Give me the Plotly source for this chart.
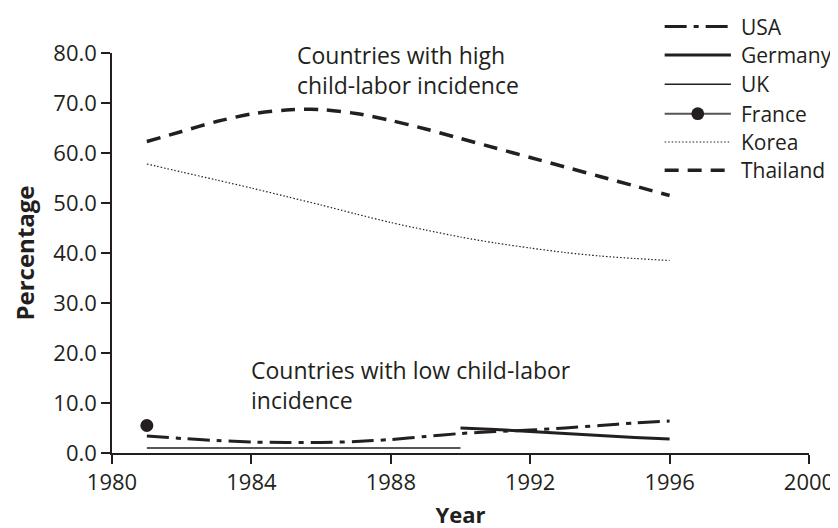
import plotly.graph_objects as go

years = list(range(1981, 1997))
usa = [3.4, 2.9, 2.5, 2.2, 2.1, 2.1, 2.3, 2.7, 3.3, 3.9, 4.3, 4.6, 5.0, 5.5, 6.0, 6.4]
germany_years = list(range(1990, 1997))
germany = [5.0, 4.7, 4.3, 3.9, 3.5, 3.1, 2.8]
uk_years = [1981, 1990]
uk = [1.0, 1.0]
france_years = [1981]
france = [5.5]
korea = [57.8, 56.2, 54.6, 53.0, 51.3, 49.6, 47.8, 46.1, 44.6, 43.2, 42.0, 41.0, 40.1, 39.4, 38.9, 38.5]
thailand = [62.3, 64.3, 66.3, 67.8, 68.6, 68.7, 67.9, 66.5, 64.8, 62.9, 61.0, 59.1, 57.2, 55.3, 53.4, 51.5]

x_ticks = [1980, 1984, 1988, 1992, 1996, 2000]
y_ticks = [0, 10, 20, 30, 40, 50, 60, 70, 80]

INK = "#231f20"
FONT = "Open Sans"
FS = 23
FS_TICK = 22
FS_LEG = 21

W, H = 838, 528
L, R, T, B = 104, 29, 45, 74
PW, PH = W - L - R, H - T - B


def px(x):
    return (x - L) / PW


def py(y):
    return (H - B - y) / PH


series = [
    dict(name="USA", x=years, y=usa, line=dict(color=INK, width=3, dash="22px,7px,5px,7px"), mode="lines"),
    dict(name="Germany", x=germany_years, y=germany, line=dict(color=INK, width=3), mode="lines"),
    dict(name="UK", x=uk_years, y=uk, line=dict(color=INK, width=1.5), mode="lines"),
    dict(name="France", x=france_years, y=france, mode="markers", marker=dict(color=INK, size=13)),
    dict(name="Korea", x=years, y=korea, line=dict(color=INK, width=1.2, dash="1.5px,2px"), mode="lines"),
    dict(name="Thailand", x=years, y=thailand, line=dict(color=INK, width=3.5, dash="14px,9px"), mode="lines"),
]

fig = go.Figure()
for s in series:
    kw = dict(x=s["x"], y=s["y"], name=s["name"], mode=s["mode"], showlegend=False)
    if "line" in s:
        kw["line"] = dict(s["line"], shape="spline", smoothing=0.8)
    if "marker" in s:
        kw["marker"] = s["marker"]
    fig.add_trace(go.Scatter(**kw))

# custom legend (long line samples like the reference)
shapes = []
annotations = []
leg_y = [18, 47, 77, 107, 136, 165]
x0, x1, xt = 663, 730, 738
for s, yy in zip(series, leg_y):
    if s["name"] == "France":
        line = dict(color="#555555", width=2)
    else:
        line = dict(s["line"])
    shapes.append(dict(type="line", xref="paper", yref="paper", x0=px(x0), x1=px(x1),
                       y0=py(yy), y1=py(yy), line=line))
    if s["name"] == "France":
        cx = (x0 + x1) / 2
        r = 6.5
        shapes.append(dict(type="circle", xref="paper", yref="paper",
                           x0=px(cx - r), x1=px(cx + r), y0=py(yy + r), y1=py(yy - r),
                           fillcolor=INK, line=dict(color=INK, width=0)))
    annotations.append(dict(text=s["name"], xref="paper", yref="paper", x=px(xt), y=py(yy),
                            xanchor="left", yanchor="middle", showarrow=False,
                            font=dict(family=FONT, size=FS_LEG, color=INK)))

annotations.append(dict(text="Countries with high<br>child-labor incidence", xref="paper", yref="paper",
                        x=px(289), y=py(62), xanchor="left", yanchor="middle", align="left",
                        showarrow=False, font=dict(family=FONT, size=FS, color=INK)))
annotations.append(dict(text="Countries with low child-labor<br>incidence", xref="paper", yref="paper",
                        x=px(243), y=py(384), xanchor="left", yanchor="middle", align="left",
                        showarrow=False, font=dict(family=FONT, size=FS, color=INK)))

fig.update_layout(
    width=W, height=H,
    margin=dict(l=L, r=R, t=T, b=B, pad=0),
    paper_bgcolor="white", plot_bgcolor="white",
    font=dict(family=FONT, size=FS, color=INK),
    shapes=shapes, annotations=annotations,
    xaxis=dict(range=[1980, 2000], tickvals=x_ticks, ticktext=[str(v) for v in x_ticks],
               showgrid=False, zeroline=False, showline=True, linecolor=INK, linewidth=1.5,
               ticks="outside", ticklen=9, tickwidth=1.5, tickcolor=INK,
               tickfont=dict(family=FONT, size=FS_TICK, color=INK),
               title=dict(text="<b>Year</b>", font=dict(family=FONT, size=22, color=INK), standoff=12)),
    yaxis=dict(range=[0, 80], tickvals=y_ticks, tickformat=".1f",
               showgrid=False, zeroline=False, showline=True, linecolor=INK, linewidth=1.5,
               ticks="outside", ticklen=9, tickwidth=1.5, tickcolor=INK,
               tickfont=dict(family=FONT, size=FS_TICK, color=INK),
               title=dict(text="<b>Percentage</b>", font=dict(family=FONT, size=24, color=INK), standoff=12)),
)

fig.write_html("out.html")
